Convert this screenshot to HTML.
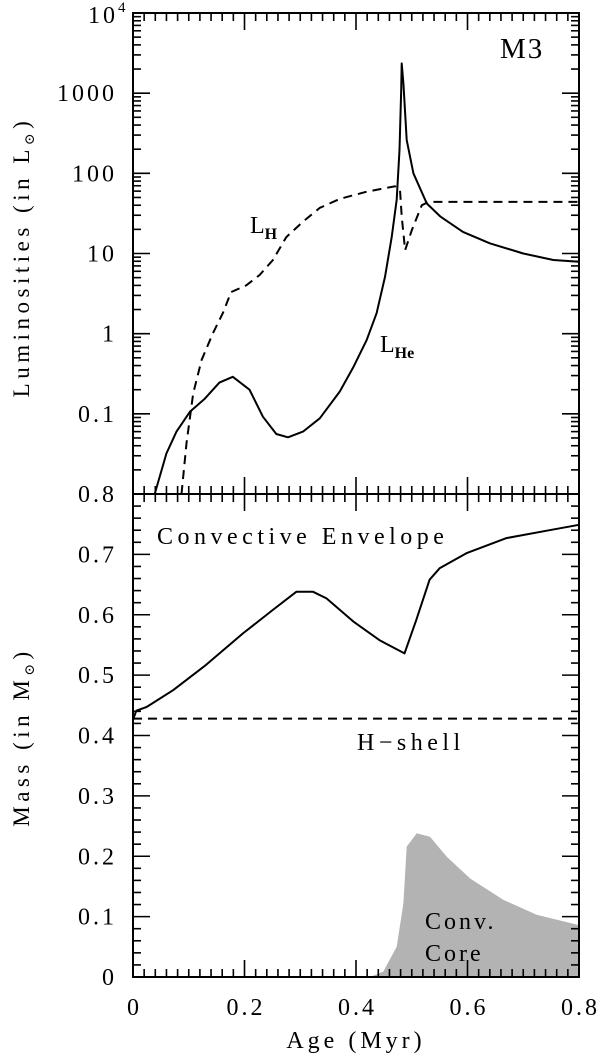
<!DOCTYPE html>
<html><head><meta charset="utf-8"><style>
html,body{margin:0;padding:0;background:#fff;}
svg{display:block;}
text{font-family:"Liberation Serif","DejaVu Serif",serif;fill:#000;}
</style></head>
<body>
<svg id="chart" width="600" height="1057" viewBox="0 0 600 1057" xmlns="http://www.w3.org/2000/svg"></svg>
<script>
// ---- data ----
const xTicks = [0, 0.2, 0.4, 0.6, 0.8];
const xTickLabels = ["0", "0.2", "0.4", "0.6", "0.8"];
const lumTickExp = [-1, 0, 1, 2, 3, 4];
const lumTickLabels = ["0.1", "1", "10", "100", "1000", "10⁴"];
const massTicks = [0, 0.1, 0.2, 0.3, 0.4, 0.5, 0.6, 0.7, 0.8];
const massTickLabels = ["0", "0.1", "0.2", "0.3", "0.4", "0.5", "0.6", "0.7", "0.8"];

const heAge = [0.039,0.06,0.078,0.102,0.129,0.155,0.179,0.209,0.233,0.257,0.278,0.305,0.335,0.371,0.395,0.419,0.437,0.452,0.464,0.473,0.478,0.481,0.482,0.485,0.491,0.503,0.527,0.551,0.592,0.64,0.70,0.754,0.80];
const heLum = [0.01,0.032,0.06,0.106,0.155,0.245,0.29,0.2,0.092,0.056,0.051,0.06,0.088,0.19,0.38,0.83,1.8,5.1,16,47,195,1100,2350,1330,260,100,42,29,18.6,13.4,10,8.3,7.9];

const hAge = [0.087,0.096,0.108,0.123,0.143,0.161,0.176,0.203,0.227,0.251,0.275,0.305,0.335,0.371,0.419,0.470,0.479,0.482,0.488,0.50,0.518,0.530,0.58,0.80];
const hLum = [0.01,0.043,0.18,0.47,1.0,1.8,3.3,4.0,5.4,8.3,16,25,37,48,59,69,62,29,11,19.5,40,44,44,44];

const envAge = [0,0.006,0.024,0.072,0.131,0.197,0.251,0.293,0.323,0.347,0.395,0.442,0.487,0.508,0.532,0.550,0.598,0.670,0.747,0.80];
const envMass = [0.426,0.441,0.447,0.475,0.517,0.569,0.608,0.638,0.638,0.627,0.589,0.558,0.536,0.591,0.658,0.677,0.702,0.727,0.740,0.749];

const shellAge = [0, 0.8];
const shellMass = [0.428, 0.428];

const coreAge = [0.425,0.449,0.473,0.485,0.491,0.509,0.533,0.563,0.605,0.664,0.724,0.80];
const coreMass = [0,0.009,0.05,0.122,0.216,0.238,0.232,0.199,0.163,0.128,0.103,0.086];

// ---- layout ----
const X0=133, X1=579, TOP=13, MID=494, BOT=977;
const sx = v => X0 + (X1-X0)*v/0.8;
const syL = v => MID - (MID-TOP)*(Math.log10(v)+2)/6;
const syM = v => BOT - (BOT-MID)*v/0.8;
const NS="http://www.w3.org/2000/svg";
const svg=document.getElementById('chart');
function mk(tag,attrs,parent){const e=document.createElementNS(NS,tag);for(const k in attrs)e.setAttribute(k,attrs[k]);(parent||svg).appendChild(e);return e;}
function pts(xs,ys,fy){return xs.map((x,i)=>sx(x).toFixed(1)+' '+fy(ys[i]).toFixed(1));}
function pathD(xs,ys,fy){return pts(xs,ys,fy).map((p,i)=>(i?'L':'M')+p).join(' ');}

// clip
const defs=mk('defs',{});
const cp=mk('clipPath',{id:'top-clip'},defs);
mk('rect',{x:X0,y:TOP,width:X1-X0,height:MID-TOP},cp);

// core fill (closed down to the zero baseline)
const coreD=pathD(coreAge,coreMass,syM)+' L'+sx(coreAge[coreAge.length-1]).toFixed(1)+' '+syM(0).toFixed(1)+' L'+sx(coreAge[0]).toFixed(1)+' '+syM(0).toFixed(1)+' Z';
const core=mk('path',{d:coreD,fill:'#b3b3b3',stroke:'none'});



// ticks
const tg=mk('g',{stroke:'#000','stroke-width':1.6});


function tick(x1,y1,x2,y2){mk('line',{x1,y1,x2,y2},tg);}
for(let i=0;i<=40;i++){
  const v=i*0.02, x=sx(v), L=(i%10===0)?17:8;
  tick(x,TOP,x,TOP+L); tick(x,MID,x,MID-L); tick(x,MID,x,MID+L); tick(x,BOT,x,BOT-L);
}
for(let e=-2;e<4;e++){
  for(let m=1;m<10;m++){
    const y=syL(m*Math.pow(10,e)), L=(m===1)?17:8;
    tick(X0,y,X0+L,y); tick(X1,y,X1-L,y);
  }
}
for(let i=0;i<=40;i++){
  const v=i*0.02, y=syM(v), L=(i%5===0)?17:8;
  tick(X0,y,X0+L,y); tick(X1,y,X1-L,y);
}

// frames
const f1=mk('rect',{x:X0,y:TOP,width:X1-X0,height:MID-TOP,fill:'none',stroke:'#000','stroke-width':2});


const f2=mk('rect',{x:X0,y:MID,width:X1-X0,height:BOT-MID,fill:'none',stroke:'#000','stroke-width':2});



// series
const gTop=mk('g',{'clip-path':'url(#top-clip)'});
const he=mk('path',{d:pathD(heAge,heLum,syL),fill:'none',stroke:'#000','stroke-width':2,'stroke-linejoin':'round'},gTop);


const hl=mk('path',{d:pathD(hAge,hLum,syL),fill:'none',stroke:'#000','stroke-width':2,'stroke-dasharray':'9 6'},gTop);


const env=mk('path',{d:pathD(envAge,envMass,syM),fill:'none',stroke:'#000','stroke-width':2,'stroke-linejoin':'round'});


const sh=mk('path',{d:pathD(shellAge,shellMass,syM),fill:'none',stroke:'#000','stroke-width':2,'stroke-dasharray':'9 6'});



// tick labels
function txt(x,y,s,attrs,name){const t=mk('text',Object.assign({x,y},attrs||{}));t.textContent=s;return t;}
const TL={'font-size':24,'letter-spacing':3};
xTicks.forEach((v,i)=>txt(sx(v)+1.5,1015,xTickLabels[i],Object.assign({'text-anchor':'middle'},TL),'x-tick-label'));
lumTickExp.forEach((e,i)=>{
  if(e===4){const t=txt(88,TOP+10,'10',Object.assign({},TL),'y-tick-label-top');
    const s=mk('tspan',{dy:-11,'font-size':15},t); s.textContent='4';}
  else txt(X0-16,syL(Math.pow(10,e))+8,lumTickLabels[i],Object.assign({'text-anchor':'end'},TL),'y-tick-label-luminosity');
});
massTicks.forEach((v,i)=>txt(X0-16,syM(v)+8,massTickLabels[i],Object.assign({'text-anchor':'end'},TL),'y-tick-label-mass'));

// axis titles
const yt1=txt(0,0,'Luminosities (in L',{'font-size':23,'letter-spacing':4.5,'text-anchor':'middle',transform:'translate(29,257) rotate(-90)'},'luminosity-axis-title');
let s1=mk('tspan',{'font-size':14,dy:5},yt1); s1.textContent='⊙';
let s1b=mk('tspan',{dy:-5},yt1); s1b.textContent=')';
const yt2=txt(0,0,'Mass (in M',{'font-size':23,'letter-spacing':4.5,'text-anchor':'middle',transform:'translate(29,737) rotate(-90)'},'mass-axis-title');
let s2=mk('tspan',{'font-size':14,dy:5},yt2); s2.textContent='⊙';
let s2b=mk('tspan',{dy:-5},yt2); s2b.textContent=')';
txt(356,1048,'Age (Myr)',{'text-anchor':'middle','font-size':24,'letter-spacing':4},'x-axis-title');

// annotations
txt(500,58,'M3',{'font-size':29,'letter-spacing':2},'model-label');
const lh=txt(250,233,'L',{'font-size':24},'lh-label'); let lhs=mk('tspan',{'font-size':16,dy:6,'font-weight':'bold'},lh); lhs.textContent='H';
const lhe=txt(380,352,'L',{'font-size':24},'lhe-label'); let lhes=mk('tspan',{'font-size':16,dy:6,'font-weight':'bold'},lhe); lhes.textContent='He';
txt(157,544,'Convective Envelope',{'font-size':24,'letter-spacing':4.5},'convective-envelope-label');
txt(357,750,'H−shell',{'font-size':24,'letter-spacing':4.5},'h-shell-label');
txt(425,929,'Conv.',{'font-size':24,'letter-spacing':3},'conv-core-label-1');
txt(425,961,'Core',{'font-size':24,'letter-spacing':3},'conv-core-label-2');
</script>
</body></html>
